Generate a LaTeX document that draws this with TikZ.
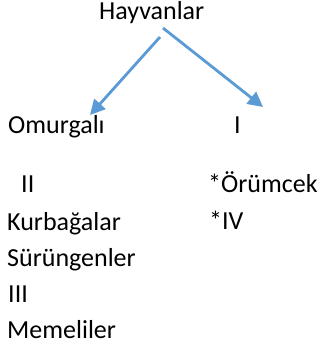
\documentclass[tikz,border=0pt]{standalone}
\usepackage{fontspec}
\setmainfont{Carlito}
\usetikzlibrary{arrows.meta}
\definecolor{officeblue}{RGB}{91,155,213}
\begin{document}
\begin{tikzpicture}[x=1pt,y=-1pt,
  lbl/.style={anchor=base west,inner sep=0pt,font=\fontsize{26}{30}\selectfont},
  arr/.style={draw=officeblue,line width=2.8pt,-{Triangle[length=15pt,width=15pt]}}]
\useasboundingbox[fill=white] (0,0) rectangle (321,350);
\node[lbl] (hay) at (99,20) {Hayvanlar};
\node[lbl] (omu) at (8,133) {Omurgalı};
\node[lbl] (one) at (234,133) {I};
\node[lbl] (two) at (21,192) {II};
\node[lbl] (oru) at (208,192) {*Örümcek};
\node[lbl] (four) at (209,229) {*IV};
\node[lbl] (kur) at (7,230) {Kurbağalar};
\node[lbl] (sur) at (7,266) {Sürüngenler};
\node[lbl] (three) at (8,302) {III};
\node[lbl] (mem) at (7,338) {Memeliler};
\coordinate (ls) at (160,37);
\coordinate (rs) at (163,28);
\coordinate (lt) at (90,115);
\coordinate (rt) at (263,107);
\draw[arr] (ls) -- (lt);
\draw[arr] (rs) -- (rt);
\end{tikzpicture}
\end{document}
